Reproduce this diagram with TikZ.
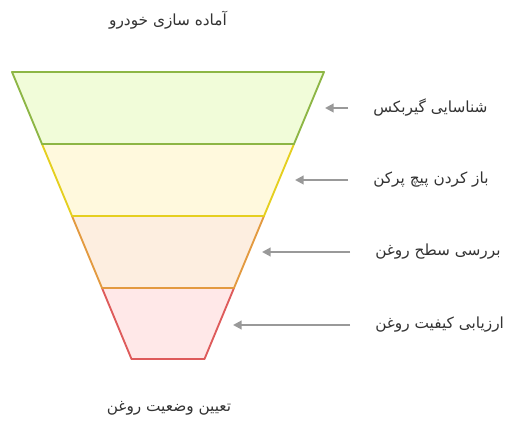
\documentclass[tikz,border=0pt]{standalone}
\usepackage{fontspec}
\usetikzlibrary{arrows.meta}
\TeXXeTstate=1
\newfontfamily\arabicfont[Script=Arabic]{DejaVu Sans}
\definecolor{gstroke}{HTML}{8DB645}
\definecolor{gfill}{HTML}{F1FCD9}
\definecolor{ystroke}{HTML}{E5CF1F}
\definecolor{yfill}{HTML}{FFF9DD}
\definecolor{ostroke}{HTML}{E39A40}
\definecolor{ofill}{HTML}{FDEEE0}
\definecolor{rstroke}{HTML}{DE5B5B}
\definecolor{rfill}{HTML}{FFE8E8}
\definecolor{txt}{HTML}{333333}
\definecolor{arrgray}{HTML}{999999}
\begin{document}
\begin{tikzpicture}[x=0.75pt,y=-0.75pt,
  band/.style={line width=1.4pt,line join=round},
  lbl/.style={inner sep=0pt,text=txt,font=\arabicfont\fontsize{11.5}{13}\selectfont},
  sidelbl/.style={lbl,anchor=west},
  arr/.style={draw=arrgray,line width=1.5pt,-{Triangle[length=6.5pt,width=6.5pt]},shorten <=25*0.75pt}]
\useasboundingbox (0,0) rectangle (528,441);
% bands, bottom first
\draw[band,draw=rstroke,fill=rfill] (102,288) -- (234,288) -- (204.5,359) -- (131.5,359) -- cycle;
\draw[band,draw=ostroke,fill=ofill] (72,216) -- (264,216) -- (234,288) -- (102,288) -- cycle;
\draw[band,draw=ystroke,fill=yfill] (42,144) -- (294,144) -- (264,216) -- (72,216) -- cycle;
\draw[band,draw=gstroke,fill=gfill] (12,72) -- (324,72) -- (294,144) -- (42,144) -- cycle;
% titles
\node[lbl] (top) at (168,20) {\beginR آماده سازی خودرو\endR};
\node[lbl] (bot) at (169,408) {\beginR تعیین وضعیت روغن\endR};
% side labels
\node[sidelbl] (t1) at (373,108) {\beginR شناسایی گیربکس\endR};
\node[sidelbl] (t2) at (373,180) {\beginR باز کردن پیچ پرکن\endR};
\node[sidelbl] (t3) at (375,252) {\beginR بررسی سطح روغن\endR};
\node[sidelbl] (t4) at (375,325) {\beginR ارزیابی کیفیت روغن\endR};
\coordinate (p1) at (325,108);
\coordinate (p2) at (295,180);
\coordinate (p3) at (262,252);
\coordinate (p4) at (233,325);
\draw[arr] (t1.west) -- (p1);
\draw[arr] (t2.west) -- (p2);
\draw[arr] (t3.west) -- (p3);
\draw[arr] (t4.west) -- (p4);
\end{tikzpicture}
\end{document}
